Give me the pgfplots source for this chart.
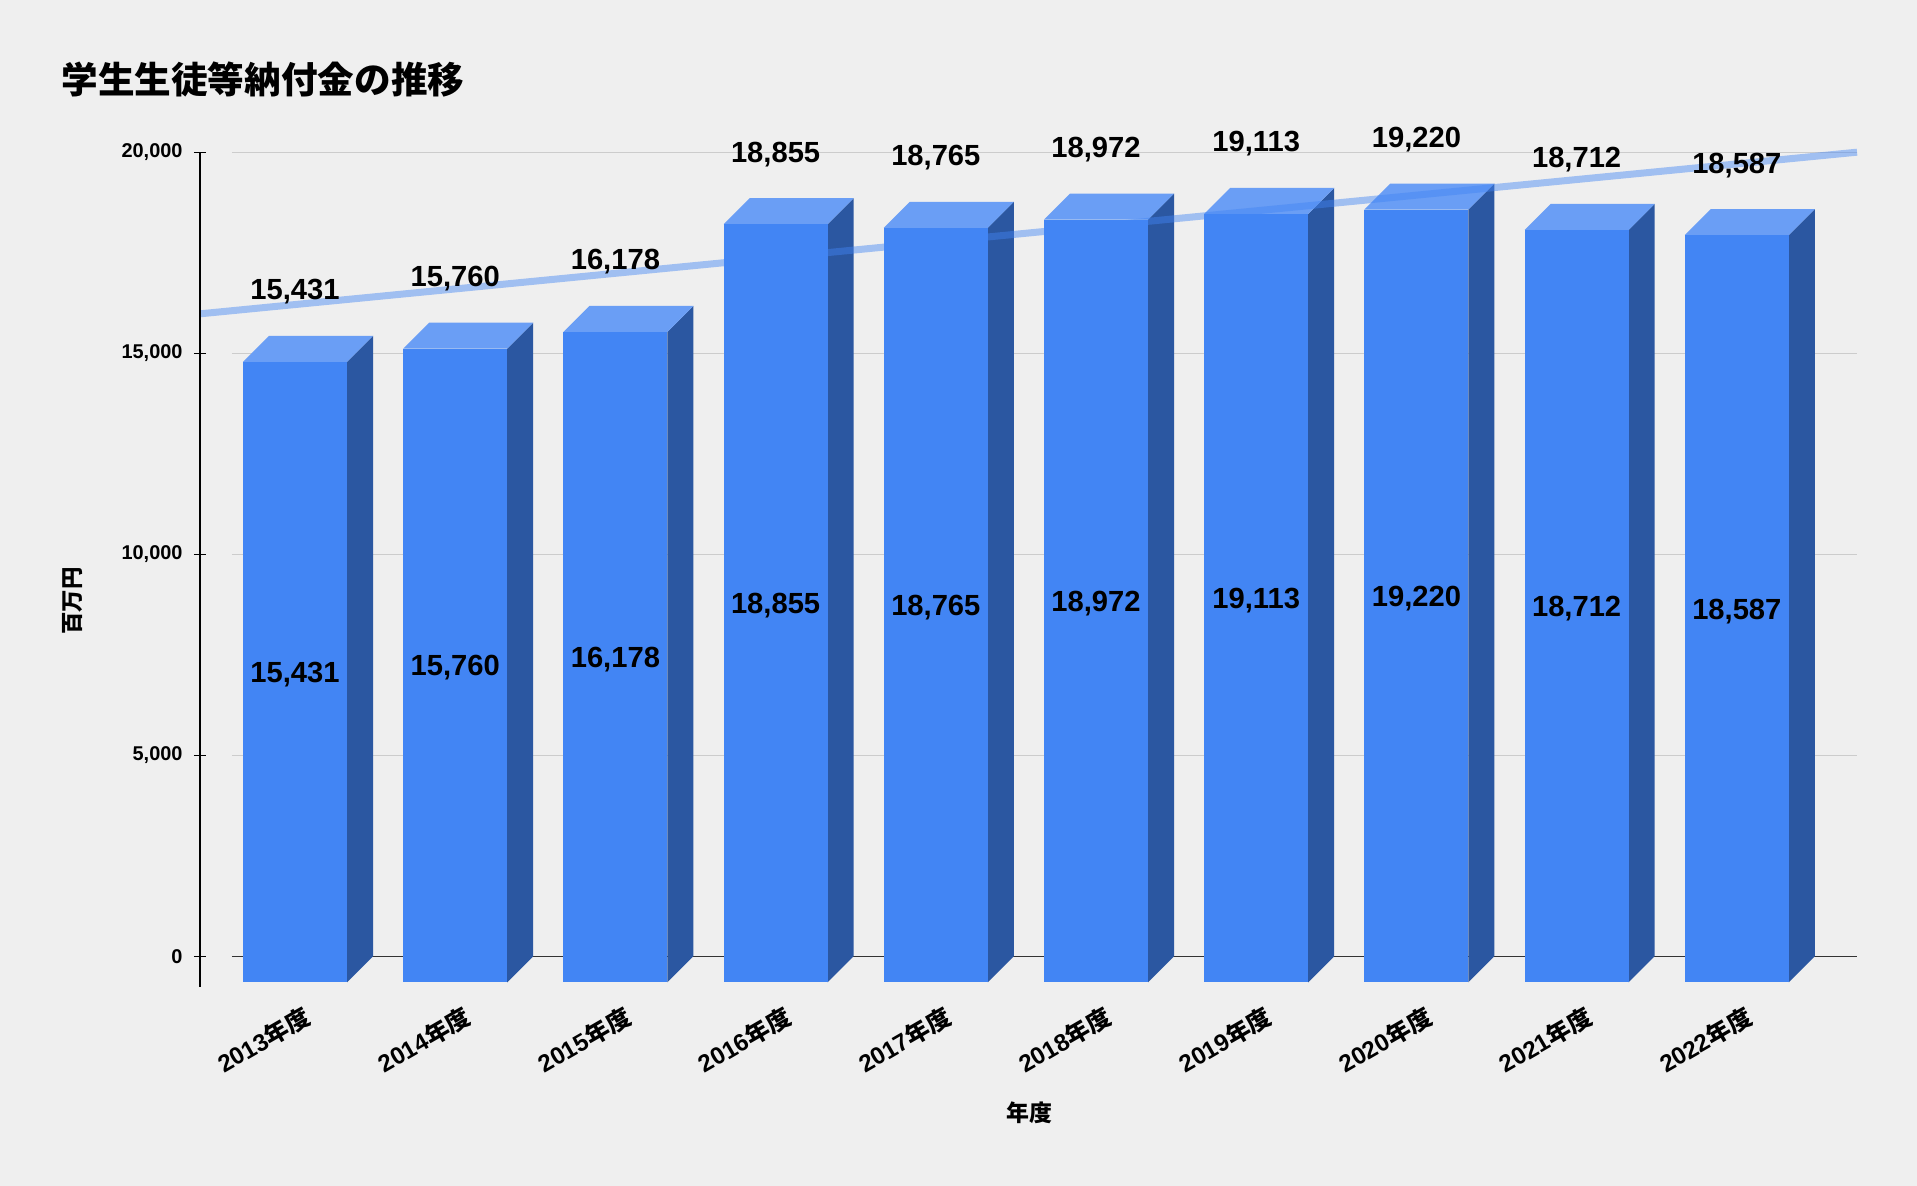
\documentclass[border=0pt]{standalone}
\usepackage{pgfplots}
\pgfplotsset{compat=1.18}
\usepackage{pgfplotstable}
\usepackage{fontspec}
\setmainfont{Liberation Sans}
\newfontfamily\cjk{Noto Sans CJK JP}
\definecolor{bgc}{HTML}{EFEFEF}
\definecolor{frontc}{HTML}{4285F4}
\definecolor{topc}{HTML}{6A9EF5}
\definecolor{sidec}{HTML}{2B57A1}
\definecolor{gridc}{HTML}{CCCCCC}

\pgfplotstableread{
i year v
0 2013 15431
1 2014 15760
2 2015 16178
3 2016 18855
4 2017 18765
5 2018 18972
6 2019 19113
7 2020 19220
8 2021 18712
9 2022 18587
}\datatable

\newcommand\nd{{\cjk 年度}}

\begin{document}
\begin{tikzpicture}
\fill[bgc] (-92.8bp,-91.88bp) rectangle (674bp,382.52bp);
\useasboundingbox (-92.8bp,-91.88bp) rectangle (674bp,382.52bp);
\begin{axis}[
  scale only axis, width=650bp, height=321.64bp,
  xmin=-0.5556, xmax=9.588, ymin=0, ymax=20000,
  clip=false,
  axis line style={draw=none},
  major tick length=0pt,
  ytick={0,5000,10000,15000,20000},
  ymajorgrids, grid style={gridc, line width=0.4bp},
  extra y ticks={0}, extra y tick labels={},
  extra y tick style={grid style={black!80, line width=0.5bp}},
  yticklabel style={anchor=east, inner sep=0pt, xshift=-19.6bp, font=\fontsize{8}{9}\selectfont\bfseries},
  /pgf/number format/1000 sep={,},
  /pgf/number format/assume math mode=true,
  scaled y ticks=false,
  xtick={0,...,9},
  xticklabels={2013\nd,2014\nd,2015\nd,2016\nd,2017\nd,2018\nd,2019\nd,2020\nd,2021\nd,2022\nd},
  xticklabel style={xshift=-5bp, rotate=30, anchor=east, inner sep=0pt, font=\fontsize{9.7}{11}\selectfont\bfseries},
  xticklabel shift=23.2bp,
]
% side and top faces
\pgfplotsforeachungrouped \k in {0,...,9}{%
  \pgfplotstablegetelem{\k}{v}\of\datatable
  \edef\vv{\pgfplotsretval}%
  \edef\vf{\the\numexpr\pgfplotsretval-647\relax}%
  \pgfmathsetmacro\xa{\k-0.4869}%
  \pgfmathsetmacro\xb{\k+0.1623}%
  \pgfmathsetmacro\xc{\k-0.3246}%
  \pgfmathsetmacro\xd{\k+0.3246}%
  \edef\tmp{%
    \noexpand\addplot[draw=none, fill=sidec, forget plot] coordinates {(\xb,\vf) (\xd,\vv) (\xd,0) (\xb,-647)};
    \noexpand\addplot[draw=none, fill=topc, forget plot] coordinates {(\xa,\vf) (\xb,\vf) (\xd,\vv) (\xc,\vv)};
  }\tmp
}
% trend line
\addplot[color=frontc, opacity=0.45, line width=2.8bp, line cap=butt, forget plot] coordinates {(-0.755,15980) (9.588,20000)};
% front faces
\pgfplotsforeachungrouped \k in {0,...,9}{%
  \pgfplotstablegetelem{\k}{v}\of\datatable
  \edef\vf{\the\numexpr\pgfplotsretval-647\relax}%
  \pgfmathsetmacro\xa{\k-0.4869}%
  \pgfmathsetmacro\xb{\k+0.1623}%
  \edef\tmp{%
    \noexpand\addplot[draw=none, fill=frontc, forget plot] coordinates {(\xa,-647) (\xb,-647) (\xb,\vf) (\xa,\vf)};
  }\tmp
}
% value labels above bars
\addplot[draw=none, mark=none, forget plot, point meta=\thisrow{v},
  nodes near coords,
  every node near coord/.append style={anchor=base, yshift=14.4bp, inner sep=0pt, text=black, font=\fontsize{11.7}{13}\selectfont\bfseries}]
  table[x expr=\thisrow{i}-0.1623, y=v] {\datatable};
% value labels inside bars
\addplot[draw=none, mark=none, forget plot, point meta=\thisrow{v},
  nodes near coords,
  every node near coord/.append style={anchor=center, text height=8.4pt, text depth=0pt, inner sep=0pt, text=black, font=\fontsize{11.7}{13}\selectfont\bfseries}]
  table[x expr=\thisrow{i}-0.1623, y expr=\thisrow{v}/2-647] {\datatable};
% y axis line and ticks
\draw[black, line width=0.5bp] ([xshift=-12.8bp]rel axis cs:0,1) -- ([xshift=-12.8bp, yshift=-12.3bp]rel axis cs:0,0);
\pgfplotsinvokeforeach{0,5000,10000,15000,20000}{
  \draw[black, line width=0.5bp] ([xshift=-15.2bp]axis cs:-0.5556,#1) -- ([xshift=-10.4bp]axis cs:-0.5556,#1);
}
\end{axis}
\node[anchor=west, inner sep=0pt, font=\cjk\fontsize{14.7}{16}\selectfont\bfseries] at (-68.4bp,350.9bp) {学生生徒等納付金の推移};
\node[rotate=90, inner sep=0pt, font=\cjk\fontsize{9}{10}\selectfont\bfseries] at (-63.6bp,142.1bp) {百万円};
\node[inner sep=0pt, font=\cjk\fontsize{9.2}{10}\selectfont\bfseries] at (319bp,-62.5bp) {年度};
\end{tikzpicture}
\end{document}
